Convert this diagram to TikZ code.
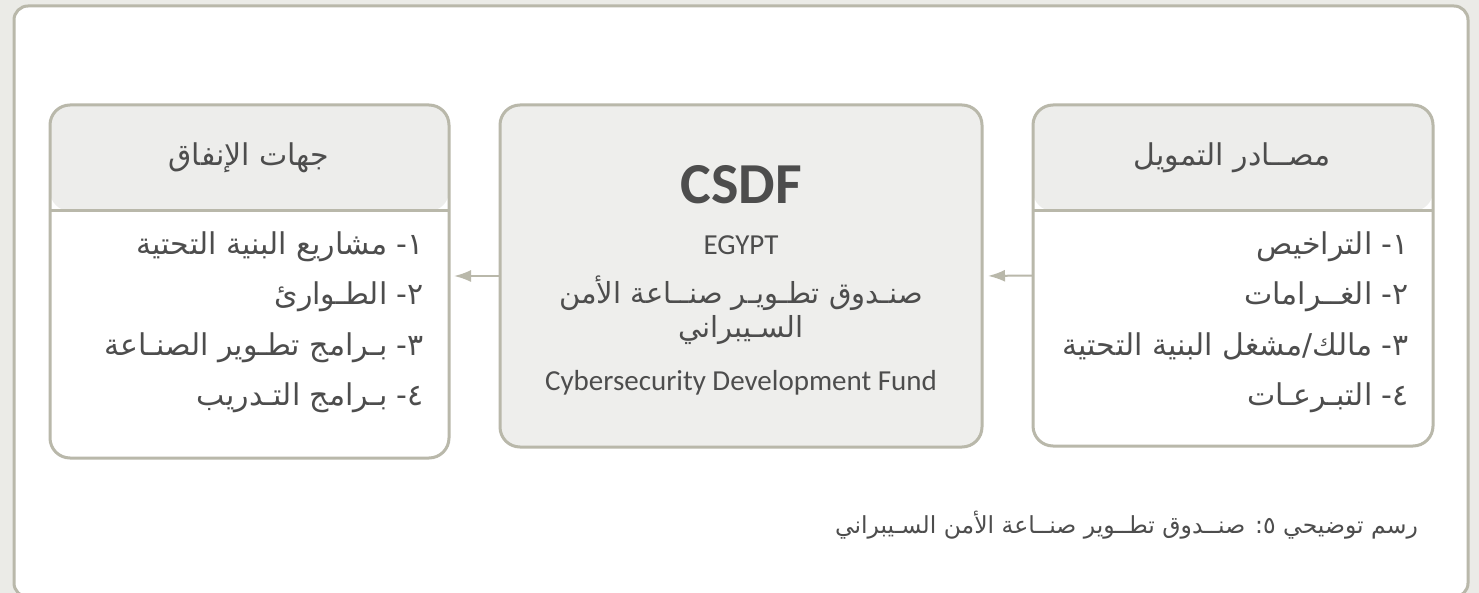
\documentclass[tikz,border=0pt]{standalone}
\usepackage{fontspec}
\usepackage{xcolor}
\usepackage{tikz}
\usetikzlibrary{arrows.meta}

\setmainfont{Carlito}
\newfontfamily\arabicfont[Script=Arabic]{DejaVu Sans}
\TeXXeTstate=1

\definecolor{pagebg}{HTML}{EBEBE7}
\definecolor{frameline}{HTML}{B9B8AA}
\definecolor{headfill}{HTML}{EDEDEB}
\definecolor{fundfill}{HTML}{EEEEEC}
\definecolor{txt}{HTML}{4D4D4D}

\tikzset{
  card/.style={draw=frameline, line width=3pt, rounded corners=20pt, fill=white,
    inner sep=0pt, outer sep=0pt},
  headed/.style={path picture={\fill[headfill] (path picture bounding box.north west)
    rectangle ([yshift=-\headH pt]path picture bounding box.north east);}},
  arab/.style={font=\arabicfont\fontsize{30}{34}\selectfont, text=txt, inner sep=0pt},
  item/.style={arab, anchor=base east},
  flow/.style={draw=frameline, line width=2pt, -{Latex[length=17pt,width=12pt]}}
}

\begin{document}
\begin{tikzpicture}[x=1pt, y=-1pt]

%---------------- 尺寸參數 ----------------%
\def\headH{106}   % 標題列高度
\def\rowSep{50}   % 條列行距
\def\firstY{255}  % 第一行 baseline

%---------------- 底色與外框 ----------------%
\clip (0,0) rectangle (1479,593);
\fill[pagebg] (0,0) rectangle (1479,593);
\draw[frameline, line width=3pt, fill=white, rounded corners=14pt] (14,6) rectangle (1468,597);

%---------------- 三個方塊 ----------------%
\node[card, headed, minimum width=399pt, minimum height=353pt] (spend) at (249.5,281.5) {};
\node[card, fill=fundfill, minimum width=482pt, minimum height=342pt] (fund) at (741,276) {};
\node[card, headed, minimum width=400pt, minimum height=341pt] (source) at (1233,275.5) {};

% 標題列分隔線
\foreach \b in {spend,source} {
  \draw[frameline, line width=3pt] ([yshift=-\headH pt]\b.north west) -- ([yshift=-\headH pt]\b.north east);
}

%---------------- 標題 ----------------%
\node[arab, anchor=base] (spendhead) at (249,166) {\beginR جهات الإنفاق\endR};
\node[arab, anchor=base] (sourcehead) at (1232,166) {\beginR مصــادر التمويل\endR};

%---------------- 條列 ----------------%
\foreach \t [count=\i] in {{١- مشاريع البنية التحتية}, {٢- الطـوارئ},
    {٣- بـرامج تطـوير الصنـاعة}, {٤- بـرامج التـدريب}} {
  \node[item] (spend\i) at (424,{\firstY+(\i-1)*\rowSep}) {\beginR\t\endR};
}
\foreach \t [count=\i] in {{١- التراخيص}, {٢- الغــرامات},
    {٣- مالك/مشغل البنية التحتية}, {٤- التبـرعـات}} {
  \node[item] (source\i) at (1409,{\firstY+(\i-1)*\rowSep}) {\beginR\t\endR};
}

%---------------- 中間方塊文字 ----------------%
\node[anchor=base, text=txt, inner sep=0pt, font=\fontsize{58}{60}\selectfont\bfseries] (csdf) at (741,204) {CSDF};
\node[anchor=base, text=txt, inner sep=0pt, font=\fontsize{29}{32}\selectfont] (egypt) at (741,255) {EGYPT};
\node[arab, anchor=base, font=\arabicfont\fontsize{29}{32}\selectfont] (fundar1) at (741,304) {\beginR صنـدوق تطـويـر صنــاعة الأمن\endR};
\node[arab, anchor=base, font=\arabicfont\fontsize{29}{32}\selectfont] (fundar2) at (741,337) {\beginR السـيبراني\endR};
\node[anchor=base, text=txt, inner sep=0pt, font=\fontsize{29}{32}\selectfont] (funden) at (741,390) {Cybersecurity Development Fund};

%---------------- 箭頭 ----------------%
\draw[flow, shorten >=6pt] (source.west) -- (fund.east);
\draw[flow, shorten >=5pt] (fund.west) -- (spend.east |- fund.west);

%---------------- 圖說 ----------------%
\node[arab, anchor=base east, font=\arabicfont\fontsize{23.5}{26}\selectfont] (caption) at (1418,533)
  {\beginR رسم توضيحي ٥: صنــدوق تطــوير صنــاعة الأمن السـيبراني\endR};

\end{tikzpicture}
\end{document}
